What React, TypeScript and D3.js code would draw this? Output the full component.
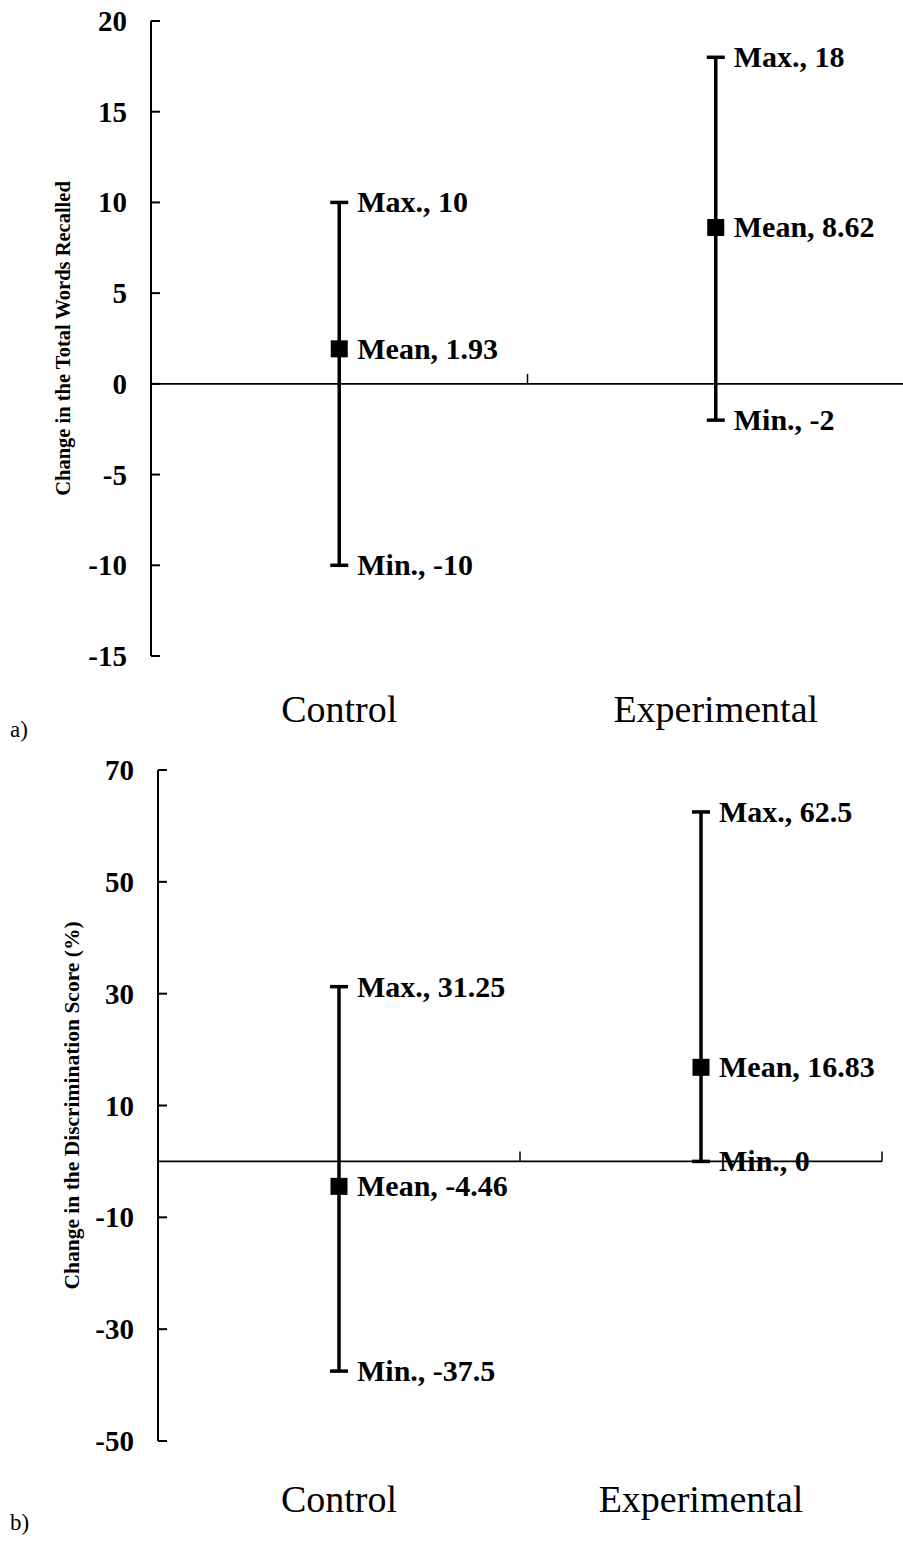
import React from 'react'
import * as d3 from 'd3'

const categories = ['Control', 'Experimental']

const wordsMin = [-10, -2]
const wordsMean = [1.93, 8.62]
const wordsMax = [10, 18]
const wordsTicks = [-15, -10, -5, 0, 5, 10, 15, 20]

const discMin = [-37.5, 0]
const discMean = [-4.46, 16.83]
const discMax = [31.25, 62.5]
const discTicks = [-50, -30, -10, 10, 30, 50, 70]

const FONT = '"Liberation Serif", "Times New Roman", serif'

type PanelProps = {
  title: string
  tag: string
  mins: number[]
  means: number[]
  maxs: number[]
  ticks: number[]
  domain: [number, number]
  top: number
  bottom: number
  left: number
  right: number
  titleX: number
  catY: number
  tagY: number
  titleSize: number
}

function Panel (p: PanelProps) {
  const y = d3.scaleLinear().domain(p.domain).range([p.bottom, p.top])
  const x = d3.scaleBand().domain(categories).range([p.left, p.right])
  const y0 = y(0)
  const cap = 9

  // boundaries of the category bands get the little upward ticks
  const bounds = categories.map((c) => (x(c) as number) + x.bandwidth())

  return (
    <g fontFamily={FONT} fill='#000'>
      {/* value axis */}
      <line x1={p.left} x2={p.left} y1={p.top} y2={p.bottom} stroke='#000' strokeWidth={2} />
      {p.ticks.map((t) => (
        <g key={t}>
          <line x1={p.left} x2={p.left + 9} y1={y(t)} y2={y(t)} stroke='#000' strokeWidth={2} />
          <text x={p.left - 24} y={y(t) + 10} textAnchor='end' fontWeight='bold' fontSize={29}>{t}</text>
        </g>
      ))}
      <text
        transform={`translate(${p.titleX},${(p.top + p.bottom) / 2}) rotate(-90)`}
        textAnchor='middle'
        fontWeight='bold'
        fontSize={p.titleSize}
      >{p.title}</text>

      {/* category axis along zero */}
      <line x1={p.left} x2={p.right} y1={y0} y2={y0} stroke='#000' strokeWidth={1.8} />
      {bounds.map((b, i) => (
        <line key={i} x1={b} x2={b} y1={y0} y2={y0 - 10} stroke='#000' strokeWidth={1.5} />
      ))}
      {categories.map((c) => (
        <text key={c} x={(x(c) as number) + x.bandwidth() / 2} y={p.catY} textAnchor='middle' fontSize={38}>{c}</text>
      ))}

      {/* min / mean / max bars */}
      {categories.map((c, i) => {
        const cx = (x(c) as number) + x.bandwidth() / 2
        const lx = cx + 18
        return (
          <g key={c}>
            <line x1={cx} x2={cx} y1={y(p.maxs[i])} y2={y(p.mins[i])} stroke='#000' strokeWidth={3.5} />
            <line x1={cx - cap} x2={cx + cap} y1={y(p.maxs[i])} y2={y(p.maxs[i])} stroke='#000' strokeWidth={3.5} />
            <line x1={cx - cap} x2={cx + cap} y1={y(p.mins[i])} y2={y(p.mins[i])} stroke='#000' strokeWidth={3.5} />
            <rect x={cx - 8.5} y={y(p.means[i]) - 8.5} width={17} height={17} fill='#000' />
            <text x={lx} y={y(p.maxs[i]) + 10} fontWeight='bold' fontSize={30}>{`Max., ${p.maxs[i]}`}</text>
            <text x={lx} y={y(p.means[i]) + 10} fontWeight='bold' fontSize={30}>{`Mean, ${p.means[i]}`}</text>
            <text x={lx} y={y(p.mins[i]) + 10} fontWeight='bold' fontSize={30}>{`Min., ${p.mins[i]}`}</text>
          </g>
        )
      })}

      <text x={10} y={p.tagY} fontSize={23}>{p.tag}</text>
    </g>
  )
}

export default function App () {
  return (
    <svg
      width={903}
      height={1541}
      viewBox='0 0 903 1541'
      style={{ position: 'absolute', left: 0, top: 0, display: 'block', background: '#fff' }}
    >
      <Panel
        title='Change in the Total Words Recalled'
        tag='a)'
        mins={wordsMin}
        means={wordsMean}
        maxs={wordsMax}
        ticks={wordsTicks}
        domain={[-15, 20]}
        top={21}
        bottom={656}
        left={151}
        right={904}
        titleX={70}
        catY={722}
        tagY={737}
        titleSize={20.5}
      />
      <Panel
        title='Change in the Discrimination Score (%)'
        tag='b)'
        mins={discMin}
        means={discMean}
        maxs={discMax}
        ticks={discTicks}
        domain={[-50, 70]}
        top={770}
        bottom={1441}
        left={158}
        right={882}
        titleX={79}
        catY={1512}
        tagY={1530}
        titleSize={21.5}
      />
    </svg>
  )
}
